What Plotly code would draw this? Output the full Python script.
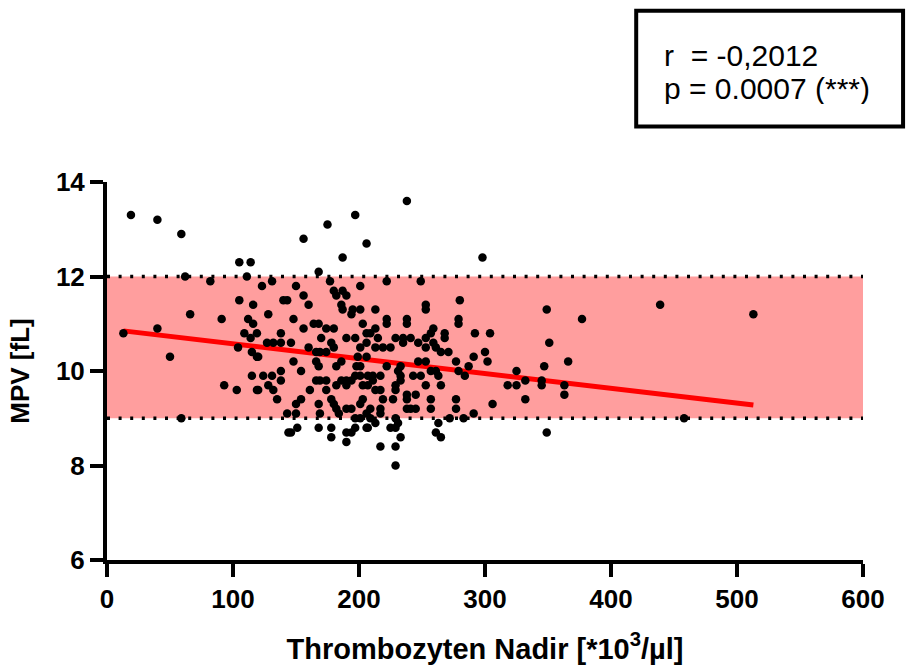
import plotly.graph_objects as go

# Thrombozyten Nadir [*10^3/µl]
nadir = [19, 40, 59, 238, 197, 175, 156, 206, 298, 187, 168, 105, 114, 62, 82, 111, 249, 222, 177,
         105, 116, 66, 91, 112, 116, 13, 40, 109, 114, 119, 104, 115, 119, 50, 115, 93, 103, 119, 59,
         123, 131, 150, 201, 156, 180, 182, 187, 190, 140, 143, 160, 186, 187, 195, 201, 213, 128, 148, 194,
         156, 164, 168, 174, 180, 203, 213, 138, 127, 132, 138, 146, 160, 170, 178, 180, 190, 197, 206, 206,
         201, 120, 166, 169, 174, 148, 166, 168, 182, 186, 199, 206, 198, 201, 138, 154, 124, 131, 197, 201,
         207, 211, 166, 169, 174, 182, 128, 132, 138, 190, 190, 194, 120, 161, 174, 186, 203, 207, 213, 135,
         150, 154, 178, 180, 203, 201, 143, 150, 168, 169, 182, 184, 190, 194, 197, 201, 206, 209, 146, 151,
         144, 168, 178, 178, 190, 190, 194, 197, 206,
         280, 253, 253, 222, 238, 279, 222, 238, 279, 209, 215, 229, 235, 241, 247, 253, 259, 257, 268, 268,
         292, 304, 213, 219, 225, 235, 253, 259, 261, 265, 271, 300, 291, 302, 277, 247, 253, 287, 233, 231,
         222, 257, 261, 263, 279, 284, 325, 332, 318, 325, 211, 217, 233, 233, 229, 243, 249, 253, 265, 217,
         229, 238, 245, 219, 227, 238, 238, 241, 245, 257, 257, 277, 332, 306, 209, 217, 217, 277, 272, 283,
         291, 229, 231, 263, 213, 207, 225, 229, 261, 265, 233, 229, 217, 229,
         349, 377, 439, 513, 351, 366, 347, 345, 345, 363, 363, 458, 349]

# MPV [fL]
mpv = [13.3, 13.2, 12.9, 13.6, 13.3, 13.1, 12.8, 12.7, 12.4, 12.4, 12.1, 12.3, 12.3, 12.0, 11.9, 12.0, 11.9, 11.9, 11.9,
       11.5, 11.4, 11.2, 11.1, 11.1, 11.0, 10.8, 10.9, 10.8, 10.7, 10.8, 10.5, 10.4, 10.3, 10.3, 9.9, 9.7, 9.6, 9.6, 9.0,
       11.8, 11.9, 11.8, 11.8, 11.6, 11.7, 11.6, 11.7, 11.6, 11.5, 11.5, 11.4, 11.4, 11.3, 11.3, 11.3, 11.3, 11.2, 11.1, 11.2,
       10.9, 11.0, 11.0, 10.9, 10.9, 11.0, 10.9, 10.8, 10.6, 10.6, 10.6, 10.6, 10.5, 10.7, 10.6, 10.5, 10.7, 10.7, 10.8, 10.6,
       10.5, 10.3, 10.4, 10.4, 10.4, 10.2, 10.2, 10.1, 10.1, 10.2, 10.3, 10.3, 10.1, 10.1, 10.0, 10.0, 9.9, 9.9, 9.9, 9.9,
       9.9, 9.9, 9.8, 9.8, 9.8, 9.7, 9.7, 9.6, 9.8, 9.8, 9.7, 9.8, 9.6, 9.6, 9.6, 9.8, 9.7, 9.7, 9.6, 9.4,
       9.3, 9.4, 9.4, 9.3, 9.4, 9.3, 9.1, 9.1, 9.3, 9.1, 9.2, 9.1, 9.2, 9.2, 9.0, 9.0, 9.1, 9.0, 8.7, 8.8,
       8.7, 8.8, 8.8, 8.6, 8.7, 8.5, 8.7, 8.8, 8.8,
       11.5, 11.4, 11.3, 11.1, 11.1, 11.1, 11.0, 11.0, 11.0, 10.8, 10.7, 10.7, 10.7, 10.7, 10.6, 10.7, 10.9, 10.8, 10.8, 10.7,
       10.8, 10.8, 10.5, 10.5, 10.5, 10.6, 10.5, 10.6, 10.5, 10.4, 10.4, 10.4, 10.3, 10.2, 10.2, 10.2, 10.2, 10.1, 10.1, 10.0,
       10.1, 10.0, 10.0, 9.9, 10.0, 9.9, 10.0, 9.8, 9.7, 9.7, 9.8, 9.9, 9.9, 9.8, 9.7, 9.9, 9.9, 9.7, 9.7, 9.6,
       9.6, 9.5, 9.5, 9.4, 9.4, 9.4, 9.2, 9.2, 9.2, 9.4, 9.2, 9.4, 9.4, 9.3, 9.2, 9.2, 9.1, 9.2, 9.0, 9.0,
       9.1, 9.0, 8.9, 8.9, 8.9, 8.8, 8.8, 8.8, 8.7, 8.6, 8.6, 8.4, 8.4, 8.0,
       11.3, 11.1, 11.4, 11.2, 10.6, 10.2, 10.1, 9.8, 9.7, 9.7, 9.5, 9.0, 8.7]

# Normal range of MPV
ref_low, ref_high = 9.0, 12.0

# Linear regression
fit_slope = -0.00314
fit_intercept = 10.89

stats_lines = ["r  = -0,2012", "p = 0.0007 (***)"]

x_ticks = [0, 100, 200, 300, 400, 500, 600]
y_ticks = [6, 8, 10, 12, 14]

FONT = "Arial, 'Liberation Sans', sans-serif"

fig = go.Figure()

fit_x = [min(nadir), max(nadir)]
fit_y = [fit_intercept + fit_slope * v for v in fit_x]
fig.add_trace(go.Scatter(x=fit_x, y=fit_y, mode="lines",
                         line=dict(color="#ff0000", width=5), hoverinfo="skip"))

fig.add_trace(go.Scatter(x=nadir, y=mpv, mode="markers",
                         marker=dict(color="black", size=8.5, line=dict(width=0))))

# reference band
fig.add_shape(type="rect", xref="x", yref="y", x0=0, x1=600, y0=ref_low, y1=ref_high,
              fillcolor="rgb(255,158,158)", line=dict(width=0), layer="below")
for v in (ref_low, ref_high):
    fig.add_shape(type="line", xref="x", yref="y", x0=0, x1=600, y0=v, y1=v,
                  line=dict(color="black", width=3.5, dash="3px,8.6px"), layer="below")

# stats box
fig.add_shape(type="rect", xref="paper", yref="paper", x0=0.700, x1=1.053, y0=1.147, y1=1.453,
              line=dict(color="black", width=4), fillcolor="white")
fig.add_annotation(xref="paper", yref="paper", x=0.734, y=1.336, xanchor="left", yanchor="middle",
                   height=32, valign="middle",
                   text=stats_lines[0], showarrow=False, font=dict(family=FONT, size=30, color="black"))
fig.add_annotation(xref="paper", yref="paper", x=0.734, y=1.249, xanchor="left", yanchor="middle",
                   height=32, valign="middle",
                   text=stats_lines[1], showarrow=False, font=dict(family=FONT, size=30, color="black"))

axis_common = dict(showline=True, linewidth=4, linecolor="black", ticks="outside", ticklen=13,
                   tickwidth=4, tickcolor="black", showgrid=False, zeroline=False,
                   tickfont=dict(family=FONT, size=26, color="black", weight="bold"),
                   fixedrange=True, automargin=False)

fig.update_xaxes(range=[0, 600], tickvals=x_ticks, **axis_common,
                 title=dict(text="Thrombozyten Nadir [*10<sup>3</sup>/µl]", standoff=26,
                            font=dict(family=FONT, size=29, color="black", weight="bold")))
fig.update_yaxes(range=[6, 14], tickvals=y_ticks, **axis_common,
                 title=dict(text="MPV [fL]", standoff=20,
                            font=dict(family=FONT, size=26, color="black", weight="bold")))

fig.update_layout(width=908, height=667, margin=dict(l=107, r=45, t=182, b=107),
                  plot_bgcolor="white", paper_bgcolor="white", showlegend=False,
                  font=dict(family=FONT, color="black"))

fig.write_html("out.html")
